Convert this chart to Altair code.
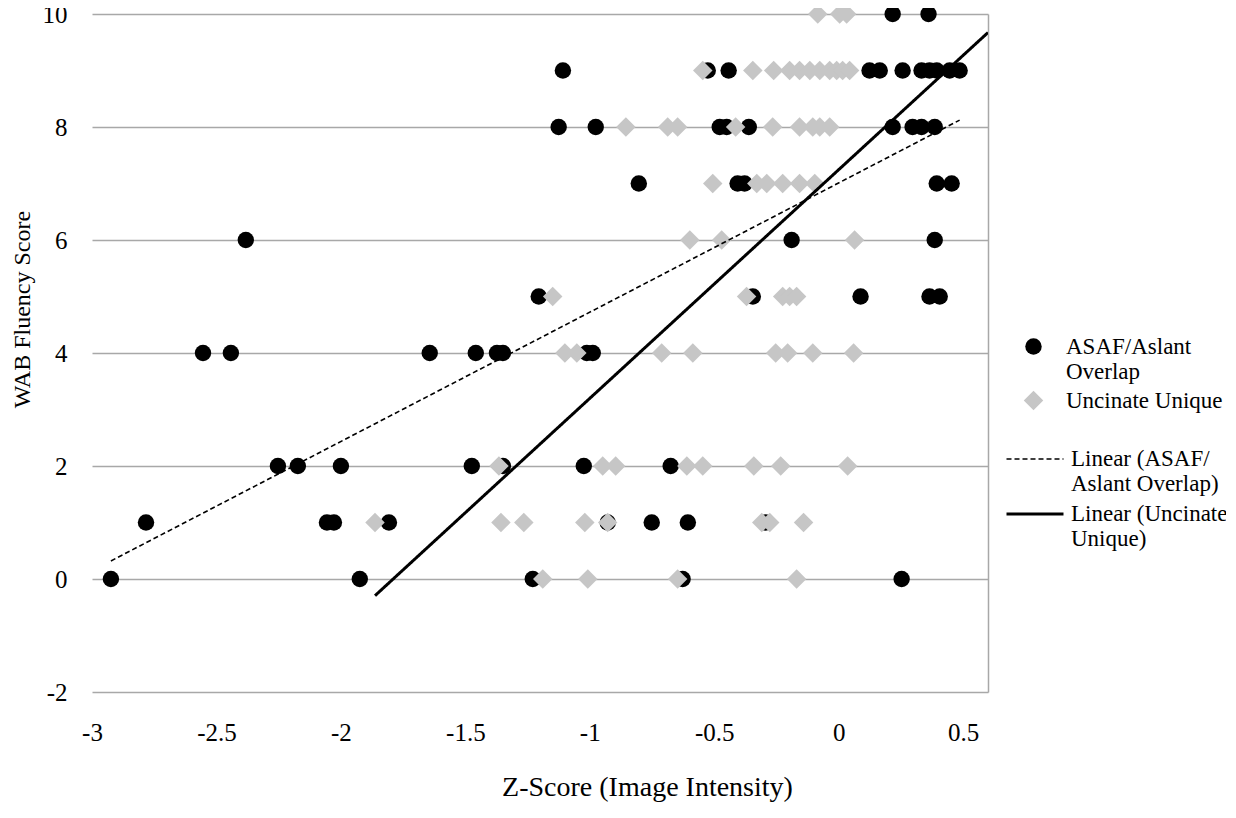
import altair as alt
import pandas as pd

# ASAF/Aslant Overlap (black circles)
asaf_x = [0.217, 0.361,
          -1.108, -0.526, -0.442, 0.124, 0.165, 0.257, 0.333, 0.365, 0.394, 0.446, 0.486,
          -1.125, -0.976, -0.478, -0.450, -0.361, 0.217, 0.297, 0.333, 0.386,
          -0.803, -0.406, -0.378, 0.394, 0.454,
          -2.382, -0.189, 0.386,
          -1.205, -0.345, 0.088, 0.365, 0.406,
          -2.554, -2.442, -1.643, -1.458, -1.373, -1.349, -1.012, -0.988,
          -2.253, -2.173, -2.0, -1.474, -1.349, -1.024, -0.675,
          -2.783, -2.056, -2.028, -1.807, -0.928, -0.751, -0.606, -0.293,
          -2.924, -1.924, -1.229, -0.627, 0.253]
asaf_y = [10, 10,
          9, 9, 9, 9, 9, 9, 9, 9, 9, 9, 9,
          8, 8, 8, 8, 8, 8, 8, 8, 8,
          7, 7, 7, 7, 7,
          6, 6, 6,
          5, 5, 5, 5, 5,
          4, 4, 4, 4, 4, 4, 4, 4,
          2, 2, 2, 2, 2, 2, 2,
          1, 1, 1, 1, 1, 1, 1, 1,
          0, 0, 0, 0, 0]

# Uncinate Unique (gray diamonds)
unc_x = [-0.084, 0.004, 0.032,
         -0.546, -0.345, -0.261, -0.197, -0.157, -0.116, -0.076, -0.036, -0.008, 0.016, 0.044,
         -0.855, -0.687, -0.647, -0.414, -0.265, -0.157, -0.104, -0.076, -0.036,
         -0.506, -0.329, -0.289, -0.225, -0.157, -0.096,
         -0.598, -0.470, 0.064,
         -1.149, -0.370, -0.225, -0.197, -0.169,
         -1.100, -1.052, -0.711, -0.586, -0.253, -0.205, -0.104, 0.060,
         -1.365, -0.948, -0.896, -0.610, -0.546, -0.341, -0.233, 0.036,
         -1.863, -1.357, -1.265, -1.020, -0.928, -0.309, -0.277, -0.141,
         -1.189, -1.008, -0.647, -0.169]
unc_y = [10, 10, 10,
         9, 9, 9, 9, 9, 9, 9, 9, 9, 9, 9,
         8, 8, 8, 8, 8, 8, 8, 8, 8,
         7, 7, 7, 7, 7, 7,
         6, 6, 6,
         5, 5, 5, 5, 5,
         4, 4, 4, 4, 4, 4, 4, 4,
         2, 2, 2, 2, 2, 2, 2, 2,
         1, 1, 1, 1, 1, 1, 1, 1,
         0, 0, 0, 0]

series_names = ["ASAF/Aslant Overlap", "Uncinate Unique"]
series_colors = ["#000000", "#c6c6c6"]
series_shapes = ["circle", "diamond"]
series_sizes = [270, 380]

# Linear trendlines
trend_names = ["Linear (ASAF/ Aslant Overlap)", "Linear (Uncinate Unique)"]
trend_slopes = [2.288, 4.047]
trend_intercepts = [7.010, 7.244]
trend_x_start = [-2.924, -1.863]
trend_x_end = [0.486, 0.6]
trend_dashes = [[5, 3], [1, 0]]
trend_widths = [1.6, 3]

x_ticks = [-3, -2.5, -2, -1.5, -1, -0.5, 0, 0.5]
y_ticks = [-2, 0, 2, 4, 6, 8, 10]

pts = pd.DataFrame({
    "x": asaf_x + unc_x,
    "y": asaf_y + unc_y,
    "series": [series_names[0]] * len(asaf_x) + [series_names[1]] * len(unc_x),
})

rows = []
for n, s, b, x0, x1 in zip(trend_names, trend_slopes, trend_intercepts, trend_x_start, trend_x_end):
    rows.append({"name": n, "slope": s, "intercept": b, "x": x0})
    rows.append({"name": n, "slope": s, "intercept": b, "x": x1})
trend = pd.DataFrame(rows)

FONT = "Liberation Serif"
GRID = "#a8a8a8"

xscale = alt.Scale(domain=[-3, 0.6], nice=False, zero=False)
yscale = alt.Scale(domain=[-2, 10], nice=False, zero=False)

points = alt.Chart(pts).mark_point(filled=True, opacity=1, strokeWidth=0).encode(
    x=alt.X("x:Q", scale=xscale, axis=alt.Axis(
        title="Z-Score (Image Intensity)", values=x_ticks, grid=False, domain=False,
        ticks=False, labelExpr="datum.value + ''", labelFontSize=25, labelPadding=40,
        labelBaseline="middle", labelFlush=False, titleFontSize=28, titleFontWeight="normal",
        titleX=555, titleY=95, titleBaseline="middle", labelColor="#000", titleColor="#000")),
    y=alt.Y("y:Q", scale=yscale, axis=alt.Axis(
        title="WAB Fluency Score", values=y_ticks, grid=True, gridColor=GRID, gridWidth=1.5,
        domain=False, ticks=False, labelExpr="datum.value + ''", labelFontSize=25,
        labelPadding=25, labelFlush=False, titleFontSize=24, titleFontWeight="normal",
        titleX=-70, titleY=295,
        titleBaseline="middle", labelColor="#000", titleColor="#000")),
    color=alt.Color("series:N", scale=alt.Scale(domain=series_names, range=series_colors),
                    legend=alt.Legend(
                        orient="none", legendX=930, legendY=321, title=None,
                        labelFontSize=23, labelFont=FONT, symbolSize=200, labelOffset=21,
                        labelLimit=400, rowPadding=5, padding=0,
                        labelExpr="datum.label == 'ASAF/Aslant Overlap' ? ['ASAF/Aslant', 'Overlap'] : datum.label")),
    shape=alt.Shape("series:N", scale=alt.Scale(domain=series_names, range=series_shapes)),
    size=alt.Size("series:N", scale=alt.Scale(domain=series_names, range=series_sizes), legend=None),
)

lines = alt.Chart(trend).transform_calculate(
    yv="datum.slope * datum.x + datum.intercept"
).mark_line(color="black", clip=True).encode(
    x=alt.X("x:Q", scale=xscale),
    y=alt.Y("yv:Q", scale=yscale, axis=alt.Axis(
        orient="right", title=None, labels=False, ticks=False, grid=False,
        domain=True, domainColor=GRID, domainWidth=1.5)),
    strokeDash=alt.StrokeDash("name:N", scale=alt.Scale(domain=trend_names, range=trend_dashes),
                              legend=alt.Legend(
                                  orient="none", legendX=913, legendY=435, title=None,
                                  labelFontSize=23, labelFont=FONT, symbolType="stroke",
                                  symbolSize=3249, labelOffset=6, labelLimit=400,
                                  clipHeight=20, rowPadding=7, padding=0,
                                  symbolStrokeColor="black",
                                  labelExpr="datum.label == 'Linear (ASAF/ Aslant Overlap)' ? ['Linear (ASAF/', 'Aslant Overlap)'] : ['Linear (Uncinate', 'Unique)']")),
    strokeWidth=alt.StrokeWidth("name:N", scale=alt.Scale(domain=trend_names, range=trend_widths)),
    detail="name:N",
)

chart = alt.layer(points, lines).resolve_axis(y="independent").properties(
    width=896, height=678,
    autosize=alt.AutoSizeParams(type="none"),
    padding={"left": 84, "top": 6, "right": 238, "bottom": 110},
).configure(font=FONT).configure_view(stroke=None).configure_axis(
    labelFont=FONT, titleFont=FONT
).configure_legend(labelFont=FONT, labelColor="#000")

chart.save("out.html", embed_options={"renderer": "svg", "actions": False})
